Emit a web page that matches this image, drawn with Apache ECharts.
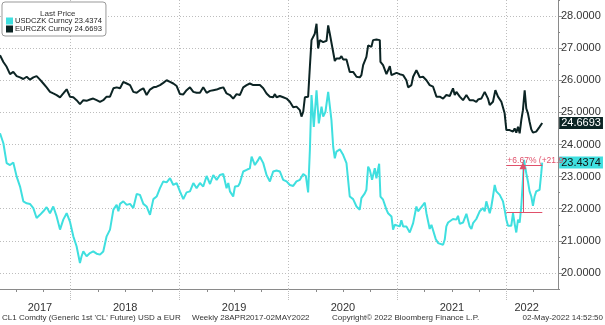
<!DOCTYPE html>
<html><head><meta charset="utf-8">
<script src="https://cdn.jsdelivr.net/npm/echarts@6/dist/echarts.min.js"></script>
<style>html,body{margin:0;padding:0;background:#fff}#c{width:605px;height:325px}</style>
</head><body><div id="c"></div>
<script>
// ---- data (decimal years) ----
const usdName = 'USDCZK Curncy';
const eurName = 'EURCZK Curncy';
const usdYears = [2017.351,2017.382,2017.412,2017.443,2017.473,2017.504,2017.535,2017.565,2017.596,2017.626,2017.657,2017.687,2017.718,2017.749,2017.779,2017.810,2017.840,2017.871,2017.902,2017.932,2017.963,2017.993,2018.024,2018.054,2018.085,2018.100,2018.116,2018.146,2018.177,2018.207,2018.238,2018.269,2018.299,2018.330,
2018.361,2018.392,2018.422,2018.438,2018.453,2018.483,2018.514,2018.545,2018.575,2018.606,2018.636,2018.667,2018.697,2018.728,2018.759,2018.789,2018.820,2018.850,2018.881,2018.912,2018.942,2018.973,2019.003,2019.034,2019.064,2019.095,2019.126,2019.156,2019.187,2019.217,2019.248,2019.279,2019.309,2019.340,
2019.370,2019.401,2019.416,2019.431,2019.447,2019.462,2019.492,2019.508,2019.538,2019.553,2019.584,2019.615,2019.645,2019.661,2019.691,2019.722,2019.737,2019.768,2019.798,2019.814,2019.829,2019.859,2019.890,2019.920,2019.951,2019.982,2020.012,2020.043,2020.073,2020.104,2020.135,2020.159,2020.180,2020.196,2020.211,2020.232,2020.257,2020.278,2020.303,2020.318,2020.339,2020.364,
2020.394,2020.410,2020.425,2020.440,2020.471,2020.501,2020.532,2020.547,2020.562,2020.593,2020.624,2020.639,2020.654,2020.669,2020.700,2020.715,2020.731,2020.746,2020.767,2020.792,2020.807,2020.832,2020.844,2020.868,2020.899,2020.914,2020.945,2020.960,2020.975,2020.991,2021.021,2021.036,2021.052,2021.082,2021.113,2021.144,2021.174,2021.189,2021.205,2021.235,2021.251,2021.266,2021.296,2021.312,2021.327,2021.351,2021.373,
2021.388,2021.419,2021.434,2021.449,2021.465,2021.480,2021.510,2021.541,2021.556,2021.572,2021.602,2021.633,2021.663,2021.679,2021.694,2021.724,2021.755,2021.786,2021.801,2021.816,2021.847,2021.862,2021.877,2021.893,2021.908,2021.939,2021.954,2021.969,2021.984,2022.000,2022.015,2022.045,2022.061,2022.076,2022.091,2022.107,2022.122,2022.137,2022.152,2022.162,2022.183,2022.198,2022.213,2022.229,2022.244,2022.259,2022.274,2022.305,2022.320,2022.329];
const usdValues = [24.35,24.04,23.42,23.36,23.44,23.00,22.69,22.23,22.17,22.15,22.02,21.71,21.81,21.92,22.05,21.86,22.07,21.76,21.35,21.66,21.86,21.60,21.14,20.83,20.31,20.52,20.67,20.52,20.62,20.67,20.60,20.57,20.67,21.14,
21.35,21.97,22.12,21.92,22.15,22.23,22.12,22.15,22.02,22.46,22.43,22.15,22.07,21.81,22.30,22.38,22.64,22.85,22.82,22.95,22.74,22.80,22.54,22.30,22.51,22.54,22.80,22.64,22.80,22.69,23.02,22.77,23.05,22.90,
23.05,23.08,23.13,22.64,22.80,22.54,22.38,22.69,22.71,22.80,23.16,23.21,23.26,23.62,23.36,23.52,23.62,23.42,23.05,23.10,22.85,23.16,23.19,23.16,22.90,22.85,22.74,22.71,22.85,22.90,23.08,23.02,22.51,23.83,25.54,24.55,25.69,24.66,25.18,24.87,25.02,25.64,
24.76,23.93,23.57,23.78,23.85,23.68,23.42,22.90,22.38,22.30,22.07,22.09,21.97,22.33,22.48,22.59,23.31,23.21,22.90,23.26,22.95,23.40,22.38,22.28,21.97,21.86,21.76,21.35,21.50,21.53,21.45,21.64,21.45,21.45,21.26,21.55,22.07,21.92,21.92,22.12,22.19,21.86,21.37,21.50,21.53,21.06,20.93,
20.88,20.88,21.04,21.45,21.57,21.55,21.68,21.66,21.78,21.53,21.57,21.84,21.45,21.37,21.55,21.68,21.92,22.02,21.92,22.23,21.86,22.07,22.38,22.74,22.54,22.43,22.43,22.23,21.97,21.66,21.47,21.47,21.86,21.53,21.26,21.66,21.57,22.07,22.90,23.52,23.10,22.85,22.54,22.38,22.09,22.38,22.54,22.59,23.10,23.4374];
const eurYears = [2017.351,2017.382,2017.412,2017.443,2017.473,2017.504,2017.535,2017.565,2017.596,2017.626,2017.657,2017.687,2017.718,2017.749,2017.779,2017.810,2017.840,2017.871,2017.902,2017.932,2017.963,2017.993,2018.024,2018.054,2018.085,2018.116,2018.146,2018.177,2018.207,2018.238,2018.269,2018.299,2018.330,
2018.361,2018.392,2018.422,2018.453,2018.483,2018.514,2018.545,2018.575,2018.606,2018.636,2018.667,2018.697,2018.728,2018.759,2018.789,2018.820,2018.850,2018.881,2018.912,2018.942,2018.973,2019.003,2019.034,2019.064,2019.095,2019.126,2019.156,2019.187,2019.217,2019.248,2019.279,2019.309,2019.340,
2019.370,2019.401,2019.416,2019.431,2019.462,2019.492,2019.523,2019.553,2019.584,2019.615,2019.645,2019.676,2019.706,2019.737,2019.768,2019.798,2019.829,2019.859,2019.875,2019.890,2019.920,2019.951,2019.982,2020.012,2020.043,2020.073,2020.104,2020.119,2020.135,2020.150,2020.165,2020.180,2020.196,2020.211,2020.241,2020.257,2020.272,2020.287,2020.318,2020.349,2020.364,
2020.379,2020.425,2020.440,2020.471,2020.486,2020.501,2020.532,2020.547,2020.562,2020.593,2020.608,2020.624,2020.654,2020.669,2020.685,2020.715,2020.731,2020.746,2020.761,2020.776,2020.807,2020.838,2020.844,2020.868,2020.884,2020.899,2020.914,2020.930,2020.945,2020.960,2020.991,2021.021,2021.052,2021.082,2021.098,2021.113,2021.128,2021.144,2021.174,2021.189,2021.205,2021.235,2021.266,2021.296,2021.327,2021.358,
2021.388,2021.419,2021.449,2021.480,2021.510,2021.526,2021.541,2021.572,2021.602,2021.633,2021.663,2021.694,2021.724,2021.740,2021.755,2021.770,2021.786,2021.801,2021.816,2021.831,2021.847,2021.877,2021.899,2021.923,2021.954,2021.984,2022.000,2022.015,2022.030,2022.045,2022.061,2022.076,2022.091,2022.107,2022.122,2022.137,2022.152,2022.168,2022.183,2022.198,2022.213,2022.229,2022.244,2022.259,2022.274,2022.290,2022.305,2022.329];
const eurValues = [26.78,26.57,26.42,26.19,26.26,26.13,26.09,26.04,26.11,26.02,26.09,26.13,26.02,25.90,25.78,25.64,25.59,25.54,25.47,25.59,25.72,25.49,25.47,25.38,25.26,25.38,25.36,25.40,25.43,25.38,25.33,25.38,25.49,
25.49,25.75,25.78,25.75,25.95,25.90,25.85,25.64,25.61,25.69,25.75,25.54,25.71,25.78,25.80,25.85,25.92,26.00,25.95,25.90,25.82,25.57,25.56,25.69,25.78,25.64,25.61,25.61,25.78,25.61,25.67,25.69,25.71,
25.75,25.78,25.82,25.59,25.54,25.43,25.57,25.54,25.78,25.85,25.90,25.85,25.85,25.85,25.75,25.59,25.49,25.47,25.57,25.47,25.51,25.47,25.43,25.33,25.16,25.18,25.07,24.87,25.02,25.47,25.43,25.49,26.42,27.25,27.45,27.76,26.99,27.25,27.19,27.23,27.71,
27.45,26.60,26.68,26.68,26.75,26.65,26.65,26.63,26.26,26.26,26.31,26.11,26.09,26.16,26.47,26.73,27.09,27.14,27.04,27.25,27.27,27.25,26.57,26.47,26.42,26.19,26.31,26.44,26.16,26.16,26.23,26.19,26.16,26.00,25.78,25.75,25.85,26.11,26.31,26.21,26.09,26.11,26.00,25.85,25.80,25.49,
25.49,25.43,25.54,25.51,25.75,25.54,25.64,25.49,25.38,25.54,25.38,25.38,25.33,25.40,25.38,25.43,25.38,25.64,25.67,25.43,25.23,25.33,25.69,25.49,25.33,24.97,24.45,24.50,24.45,24.50,24.40,24.50,24.37,24.55,24.35,24.76,25.07,25.69,25.12,24.97,24.71,24.47,24.37,24.43,24.40,24.35,24.55,24.6693];
const yearBoundaries = [2018, 2019, 2020, 2021, 2022];
const yearLabelPositions = [2017.718, 2018.5, 2019.5, 2020.5, 2021.5, 2022.186];
const quarterTicks = [2017.5,2017.75,2018.25,2018.5,2018.75,2019.25,2019.5,2019.75,2020.25,2020.5,2020.75,2021.25,2021.5,2021.75,2022.25];
const yTicks = [20,21,22,23,24,25,26,27,28];
const yMinorTicks = [19.5,20.5,21.5,22.5,23.5,24.5,25.5,26.5,27.5,28.5];
// price-change annotation (Bloomberg tool)
const annotStart = 2022.0, annotEnd = 2022.33, annotMid = 2022.152;
const annotBase = 21.88, annotTop = 23.34;
const annotText = '+6.67% (+21.9';
const footLeft1 = "CL1 Comdty (Generic 1st 'CL' Future) USD a EUR";
const footLeft2 = 'Weekly 28APR2017-02MAY2022';
const footMid = 'Copyright\u00a9 2022 Bloomberg Finance L.P.';
const footRight = '02-May-2022 14:52:50';

const cyan = '#3fdfdf', dark = '#0c2424', red = '#e0506a', grid = '#bdbdbd';
const font = 'Liberation Sans';
const usdLast = usdValues[usdValues.length - 1], eurLast = eurValues[eurValues.length - 1];

const chart = echarts.init(document.getElementById('c'), null, {renderer: 'canvas'});
chart.setOption({
  animation: false,
  backgroundColor: '#fff',
  textStyle: {fontFamily: font},
  grid: {left: 0, right: 47, top: 0, bottom: 36, containLabel: false},
  title: {text: 'Last Price', left: 35, top: 5, z: 10,
    textStyle: {fontSize: 8, fontWeight: 'normal', color: '#333', fontFamily: font}},
  legend: {
    left: 2, top: 2, orient: 'vertical', icon: 'rect', itemWidth: 7, itemHeight: 7, itemGap: 0,
    padding: [15, 4, 3, 4], backgroundColor: '#fff', borderColor: '#999', borderWidth: 1, borderRadius: 3,
    data: [usdName, eurName],
    formatter: n => n + ' ' + (n === usdName ? usdLast : eurLast).toFixed(4),
    textStyle: {fontSize: 7.6, color: '#222', fontFamily: font, padding: [0, 0, 0, -3]}
  },
  xAxis: [{
    type: 'value', min: 2017.351, max: 2022.474, position: 'bottom',
    axisLine: {onZero: false, lineStyle: {color: '#8a8a8a', width: 1}},
    axisTick: {customValues: yearBoundaries, length: 11, lineStyle: {color: grid, type: 'dotted'}},
    axisLabel: {customValues: yearLabelPositions, formatter: v => String(Math.floor(v)), fontSize: 11, color: '#333', margin: 13, fontFamily: font},
    splitLine: {show: false}
  }, {
    type: 'value', min: 2017.351, max: 2022.474, position: 'bottom',
    axisLine: {show: false, onZero: false},
    axisTick: {customValues: quarterTicks, length: 3, lineStyle: {color: '#8a8a8a'}},
    axisLabel: {show: false}, splitLine: {show: false}
  }],
  yAxis: [{
    type: 'value', min: 19.5, max: 28.5, position: 'right',
    axisLine: {show: true, onZero: false, lineStyle: {color: '#8a8a8a'}},
    axisTick: {customValues: yTicks, length: 4, lineStyle: {color: '#8a8a8a'}},
    axisLabel: {customValues: yTicks, formatter: v => Number(v).toFixed(4), fontSize: 11, color: '#333', margin: 3, fontFamily: font},
    splitLine: {show: true, lineStyle: {color: grid, type: [1, 2]}}
  }, {
    type: 'value', min: 19.5, max: 28.5, position: 'right',
    axisLine: {show: false, onZero: false},
    axisTick: {customValues: yMinorTicks, length: 2, lineStyle: {color: '#8a8a8a'}},
    axisLabel: {show: false}, splitLine: {show: false}
  }],
  series: [{
    name: eurName, type: 'line', xAxisIndex: 0, yAxisIndex: 0, showSymbol: false, symbol: 'none',
    data: eurYears.map((x, i) => [x, eurValues[i]]),
    lineStyle: {color: dark, width: 2}, itemStyle: {color: dark},
    endLabel: {show: true, formatter: p => p.value[1].toFixed(4), distance: 17, fontSize: 11, color: '#fff',
      backgroundColor: dark, padding: [1, 2, 0, 2], fontFamily: font},
    markLine: {
      silent: true, symbol: ['none', 'none'], animation: false, z: 1,
      lineStyle: {color: grid, width: 1, type: [1, 2]}, label: {show: false},
      data: yearBoundaries.map(y => ({xAxis: y}))
    }
  }, {
    name: usdName, type: 'line', xAxisIndex: 0, yAxisIndex: 0, showSymbol: false, symbol: 'none',
    data: usdYears.map((x, i) => [x, usdValues[i]]),
    lineStyle: {color: cyan, width: 2}, itemStyle: {color: cyan},
    endLabel: {show: true, formatter: p => p.value[1].toFixed(4), distance: 17, fontSize: 11, color: '#111',
      backgroundColor: cyan, padding: [1, 2, 0, 2], fontFamily: font},
    markLine: {
      silent: true, symbol: ['none', 'none'], animation: false,
      lineStyle: {color: red, width: 1, type: 'solid'},
      label: {show: false},
      data: [
        [{coord: [annotStart, annotBase]}, {coord: [annotEnd, annotBase]}],
        [{coord: [annotMid, annotBase], symbol: 'none'}, {coord: [annotMid, annotTop], symbol: 'triangle', symbolSize: [7, 7]}],
        [{coord: [annotStart, annotTop]}, {coord: [annotEnd, annotTop],
          label: {show: true, position: 'insideStartTop', formatter: annotText, color: red, fontSize: 8.5, distance: 1, fontFamily: font}}]
      ]
    }
  }],
  graphic: [
    {type: 'text', left: 2, top: 314, style: {text: footLeft1, fontSize: 8, fill: '#333', fontFamily: font}},
    {type: 'text', left: 192, top: 314, style: {text: footLeft2, fontSize: 8, fill: '#333', fontFamily: font}},
    {type: 'text', left: 332, top: 314, style: {text: footMid, fontSize: 8, fill: '#333', fontFamily: font}},
    {type: 'text', right: 2, top: 314, style: {text: footRight, fontSize: 8, fill: '#333', fontFamily: font}}
  ]
});
</script></body></html>
